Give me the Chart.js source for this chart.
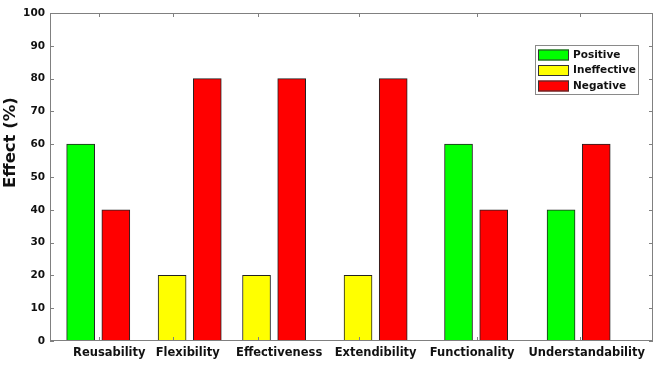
<!DOCTYPE html>
<html>
<head>
<meta charset="utf-8">
<script src="https://cdn.jsdelivr.net/npm/chart.js@4"></script>
<style>
  html, body { margin: 0; padding: 0; background: #fff; }
  #wrap { width: 662px; height: 366px; position: relative; }
</style>
</head>
<body>
<div id="wrap"><canvas id="effectChart"></canvas></div>
<script>
// datos
const categories = ['Reusability', 'Flexibility', 'Effectiveness', 'Extendibility', 'Functionality', 'Understandability'];
const seriesNames = ['Positive', 'Ineffective', 'Negative'];
const positive = [60, 0, 0, 0, 60, 40];
const ineffective = [0, 20, 20, 20, 0, 0];
const negative = [40, 80, 80, 80, 40, 60];
// posicion de cada grupo en el eje x (no es uniforme en la figura)
const groupX = [0.48, 1.39, 2.23, 3.24, 4.24, 5.26];
// donde van los nombres de las categorias
const labelX = [0.59, 1.37, 2.28, 3.24, 4.20, 5.34];
// marcas pequenas del eje x
const tickX = [0.49, 1.22, 2.07, 3.07, 4.25, 5.27];
const yTicks = [0, 10, 20, 30, 40, 50, 60, 70, 80, 90, 100];
const yTitle = 'Effect (%)';

const colors = ['#00ff00', '#ffff00', '#ff0000'];
const allSeries = [positive, ineffective, negative];
const pairGap = 0.35;

// coloca las barras no nulas de cada grupo centradas en groupX
function pointsFor(seriesIndex) {
  const pts = [];
  allSeries[seriesIndex].forEach((v, i) => {
    if (!v) return;
    const present = allSeries.map(s => s[i] > 0);
    const slot = present.slice(0, seriesIndex).filter(Boolean).length;
    const count = present.filter(Boolean).length;
    const offset = (slot - (count - 1) / 2) * pairGap;
    pts.push({ x: groupX[i] + offset, y: v });
  });
  return pts;
}

// marco, marcas hacia dentro y titulo del eje y
const frameTicks = {
  id: 'frameTicks',
  afterDatasetsDraw(chart) {
    const { ctx, chartArea: a, scales: { x, y } } = chart;
    ctx.save();
    ctx.strokeStyle = '#808080';
    ctx.lineWidth = 1;
    ctx.strokeRect(a.left + 0.5, a.top + 0.5, a.width - 1, a.height - 1);
    ctx.beginPath();
    yTicks.forEach(v => {
      const py = Math.round(y.getPixelForValue(v)) + 0.5;
      ctx.moveTo(a.left, py); ctx.lineTo(a.left + 4, py);
      ctx.moveTo(a.right, py); ctx.lineTo(a.right - 4, py);
    });
    tickX.forEach(v => {
      const px = Math.round(x.getPixelForValue(v)) + 0.5;
      ctx.moveTo(px, a.top); ctx.lineTo(px, a.top + 4);
      ctx.moveTo(px, a.bottom); ctx.lineTo(px, a.bottom - 4);
    });
    ctx.stroke();

    // el titulo esta algo por encima del centro en la figura
    ctx.translate(11, y.getPixelForValue(60.5));
    ctx.rotate(-Math.PI / 2);
    ctx.font = 'bold 16.5px "DejaVu Sans"';
    ctx.fillStyle = '#111';
    ctx.textAlign = 'center';
    ctx.textBaseline = 'middle';
    ctx.fillText(yTitle, 0, 0);
    ctx.restore();
  }
};

// leyenda con recuadro dentro del area del grafico
const boxLegend = {
  id: 'boxLegend',
  afterDraw(chart) {
    const { ctx, chartArea: a } = chart;
    const w = 104, h = 50;
    const left = a.right - 14 - w, top = a.top + 32;
    ctx.save();
    ctx.fillStyle = '#fff';
    ctx.strokeStyle = '#8a8a8a';
    ctx.lineWidth = 1;
    ctx.fillRect(left, top, w, h);
    ctx.strokeRect(left + 0.5, top + 0.5, w - 1, h - 1);
    ctx.font = 'bold 10.5px "DejaVu Sans"';
    ctx.textBaseline = 'middle';
    chart.data.datasets.forEach((ds, i) => {
      const cy = top + 10 + i * 15.5;
      ctx.fillStyle = ds.backgroundColor;
      ctx.fillRect(left + 3, cy - 5.5, 31, 11);
      ctx.strokeStyle = '#333';
      ctx.strokeRect(left + 3.5, cy - 5, 30, 10);
      ctx.fillStyle = '#111';
      ctx.fillText(ds.label, left + 38, cy);
    });
    ctx.restore();
  }
};

new Chart(document.getElementById('effectChart'), {
  type: 'bar',
  data: {
    datasets: seriesNames.map((name, i) => ({
      label: name,
      data: pointsFor(i),
      backgroundColor: colors[i],
      borderColor: '#222',
      borderWidth: 1,
      barThickness: 28,
      grouped: false
    }))
  },
  options: {
    responsive: true,
    maintainAspectRatio: false,
    animation: false,
    layout: { padding: { top: 13, right: 9, left: 0, bottom: 0 } },
    plugins: {
      legend: { display: false },
      tooltip: { enabled: false }
    },
    scales: {
      x: {
        type: 'linear',
        min: 0,
        max: 6,
        offset: false,
        grid: { display: false, drawTicks: false },
        border: { display: false },
        afterBuildTicks: s => { s.ticks = labelX.map(v => ({ value: v })); },
        afterFit: s => { s.height = 25; },
        ticks: {
          autoSkip: false,
          maxRotation: 0,
          padding: 5,
          color: '#111',
          font: { family: 'DejaVu Sans', size: 11.5, weight: 'bold' },
          callback: (v, i) => categories[i]
        }
      },
      y: {
        min: 0,
        max: 100,
        grid: { display: false, drawTicks: false },
        border: { display: false },
        afterFit: s => { s.width = 50; },
        ticks: {
          stepSize: 10,
          padding: 5,
          color: '#111',
          font: { family: 'DejaVu Sans', size: 10.5, weight: 'bold' }
        }
      }
    }
  },
  plugins: [frameTicks, boxLegend]
});
</script>
</body>
</html>
